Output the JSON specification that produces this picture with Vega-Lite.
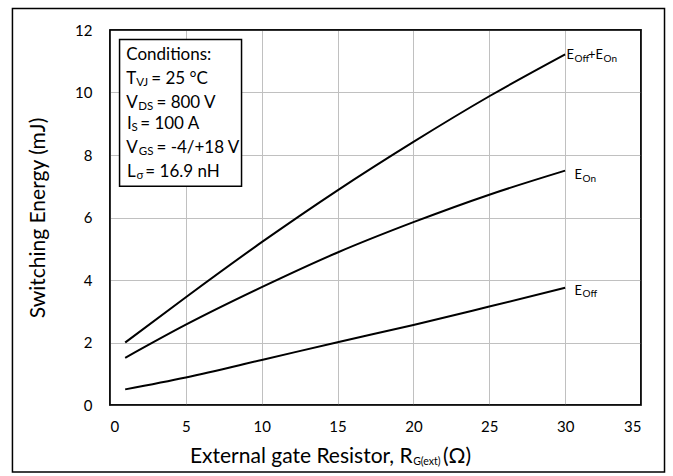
{
  "$schema": "https://vega.github.io/schema/vega-lite/v6.json",
  "width": 531,
  "height": 375,
  "autosize": {"type": "none"},
  "padding": {"left": 110, "top": 30, "right": 32, "bottom": 71},
  "background": "white",
  "config": {
    "font": "Lato",
    "view": {"stroke": "black", "strokeWidth": 1.5},
    "axis": {"labelFont": "Lato", "titleFont": "Lato", "labelColor": "black", "titleColor": "black", "gridColor": "#c0c0c0", "gridWidth": 1, "ticks": false, "tickSize": 0, "domain": false, "labelFontSize": 15}
  },
  "datasets": {
    "curves": [
      {"R": 1, "E": 0.50, "s": "Eoff"}, {"R": 5, "E": 0.88, "s": "Eoff"}, {"R": 10, "E": 1.44, "s": "Eoff"}, {"R": 15, "E": 2.01, "s": "Eoff"}, {"R": 20, "E": 2.56, "s": "Eoff"}, {"R": 25, "E": 3.15, "s": "Eoff"}, {"R": 30, "E": 3.75, "s": "Eoff"},
      {"R": 1, "E": 1.51, "s": "Eon"}, {"R": 5, "E": 2.57, "s": "Eon"}, {"R": 10, "E": 3.77, "s": "Eon"}, {"R": 15, "E": 4.88, "s": "Eon"}, {"R": 20, "E": 5.85, "s": "Eon"}, {"R": 25, "E": 6.73, "s": "Eon"}, {"R": 30, "E": 7.50, "s": "Eon"},
      {"R": 1, "E": 2.00, "s": "Etot"}, {"R": 5, "E": 3.45, "s": "Etot"}, {"R": 10, "E": 5.21, "s": "Etot"}, {"R": 15, "E": 6.87, "s": "Etot"}, {"R": 20, "E": 8.42, "s": "Etot"}, {"R": 25, "E": 9.88, "s": "Etot"}, {"R": 30, "E": 11.22, "s": "Etot"}
    ],
    "frames": [
      {"k": "outer", "x1": -6.43, "x2": 36.55, "y1": -2.14, "y2": 12.69},
      {"k": "plot", "x1": 0, "x2": 35, "y1": 0, "y2": 12},
      {"k": "box", "x1": 0.63, "x2": 8.67, "y1": 7.0, "y2": 11.7}
    ],
    "notes": [
      {"t": "Conditions:", "x": 1.07, "y": 11.19, "k": "box"},
      {"t": "T", "x": 1.07, "y": 10.42, "k": "box"}, {"t": "VJ", "x": 1.73, "y": 10.42, "k": "boxsub"}, {"t": "= 25 °C", "x": 2.72, "y": 10.42, "k": "box"},
      {"t": "V", "x": 1.07, "y": 9.68, "k": "box"}, {"t": "DS", "x": 1.86, "y": 9.68, "k": "boxsub"}, {"t": "= 800 V", "x": 3.06, "y": 9.68, "k": "box"},
      {"t": "I", "x": 1.12, "y": 8.98, "k": "box"}, {"t": "S", "x": 1.42, "y": 8.98, "k": "boxsub"}, {"t": "= 100 A", "x": 1.99, "y": 8.98, "k": "box"},
      {"t": "V", "x": 1.07, "y": 8.24, "k": "box"}, {"t": "GS", "x": 1.90, "y": 8.24, "k": "boxsub"}, {"t": "= -4/+18 V", "x": 3.06, "y": 8.24, "k": "box"},
      {"t": "L", "x": 1.12, "y": 7.45, "k": "box"}, {"t": "σ", "x": 1.75, "y": 7.45, "k": "boxsub"}, {"t": "= 16.9 nH", "x": 2.33, "y": 7.45, "k": "box"},
      {"t": "E", "x": 30.09, "y": 11.19, "k": "lbl"}, {"t": "Off", "x": 30.62, "y": 11.19, "k": "lblsub"}, {"t": "+E", "x": 31.51, "y": 11.19, "k": "lbl"}, {"t": "On", "x": 32.53, "y": 11.19, "k": "lblsub"},
      {"t": "E", "x": 30.62, "y": 7.35, "k": "lbl"}, {"t": "On", "x": 31.15, "y": 7.35, "k": "lblsub"},
      {"t": "E", "x": 30.62, "y": 3.65, "k": "lbl"}, {"t": "Off", "x": 31.15, "y": 3.65, "k": "lblsub"},
      {"t": "External gate Resistor, R", "x": 19.95, "y": -1.65, "k": "title"},
      {"t": "G(ext)", "x": 19.98, "y": -1.65, "k": "titlesub"},
      {"t": "(Ω)", "x": 21.95, "y": -1.65, "k": "titleL"}
    ]
  },
  "layer": [
    {
      "data": {"name": "frames"},
      "transform": [{"filter": "datum.k === 'box'"}],
      "mark": {"type": "rect", "color": "white", "opacity": 1},
      "encoding": {
        "x": {"field": "x1", "type": "quantitative", "scale": {"domain": [0, 35], "nice": false}},
        "x2": {"field": "x2"},
        "y": {"field": "y1", "type": "quantitative", "scale": {"domain": [0, 12], "nice": false}},
        "y2": {"field": "y2"}
      }
    },
    {
      "data": {"name": "curves"},
      "mark": {"type": "line", "color": "black", "strokeWidth": 2, "interpolate": "monotone"},
      "encoding": {
        "x": {"field": "R", "type": "quantitative", "scale": {"domain": [0, 35], "nice": false},
          "axis": {"values": [0, 5, 10, 15, 20, 25, 30, 35], "title": null, "labelPadding": 14, "grid": true}},
        "y": {"field": "E", "type": "quantitative", "scale": {"domain": [0, 12], "nice": false},
          "axis": {"values": [0, 2, 4, 6, 8, 10, 12], "title": "Switching Energy (mJ)", "titleFontSize": 21, "titleFontWeight": "normal", "titlePadding": 26, "labelPadding": 18, "grid": true}},
        "detail": {"field": "s"}
      }
    },
    {
      "data": {"name": "frames"},
      "mark": {"type": "rect", "filled": false, "stroke": "black", "strokeWidth": 1.5},
      "encoding": {
        "x": {"field": "x1", "type": "quantitative", "scale": {"domain": [0, 35], "nice": false}},
        "x2": {"field": "x2"},
        "y": {"field": "y1", "type": "quantitative", "scale": {"domain": [0, 12], "nice": false}},
        "y2": {"field": "y2"}
      }
    },
    {
      "data": {"name": "notes"},
      "transform": [{"filter": "datum.k === 'box'"}],
      "mark": {"type": "text", "align": "left", "baseline": "middle", "fontSize": 17, "color": "black"},
      "encoding": {
        "x": {"field": "x", "type": "quantitative", "scale": {"domain": [0, 35], "nice": false}},
        "y": {"field": "y", "type": "quantitative", "scale": {"domain": [0, 12], "nice": false}},
        "text": {"field": "t"}
      }
    },
    {
      "data": {"name": "notes"},
      "transform": [{"filter": "datum.k === 'boxsub'"}],
      "mark": {"type": "text", "align": "left", "baseline": "middle", "fontSize": 11.5, "dy": 4, "color": "black"},
      "encoding": {
        "x": {"field": "x", "type": "quantitative", "scale": {"domain": [0, 35], "nice": false}},
        "y": {"field": "y", "type": "quantitative", "scale": {"domain": [0, 12], "nice": false}},
        "text": {"field": "t"}
      }
    },
    {
      "data": {"name": "notes"},
      "transform": [{"filter": "datum.k === 'lbl'"}],
      "mark": {"type": "text", "align": "left", "baseline": "middle", "fontSize": 13, "color": "black"},
      "encoding": {
        "x": {"field": "x", "type": "quantitative", "scale": {"domain": [0, 35], "nice": false}},
        "y": {"field": "y", "type": "quantitative", "scale": {"domain": [0, 12], "nice": false}},
        "text": {"field": "t"}
      }
    },
    {
      "data": {"name": "notes"},
      "transform": [{"filter": "datum.k === 'lblsub'"}],
      "mark": {"type": "text", "align": "left", "baseline": "middle", "fontSize": 10, "dy": 3.5, "color": "black"},
      "encoding": {
        "x": {"field": "x", "type": "quantitative", "scale": {"domain": [0, 35], "nice": false}},
        "y": {"field": "y", "type": "quantitative", "scale": {"domain": [0, 12], "nice": false}},
        "text": {"field": "t"}
      }
    },
    {
      "data": {"name": "notes"},
      "transform": [{"filter": "datum.k === 'title'"}],
      "mark": {"type": "text", "align": "right", "baseline": "middle", "fontSize": 21, "color": "black"},
      "encoding": {
        "x": {"field": "x", "type": "quantitative", "scale": {"domain": [0, 35], "nice": false}},
        "y": {"field": "y", "type": "quantitative", "scale": {"domain": [0, 12], "nice": false}},
        "text": {"field": "t"}
      }
    },
    {
      "data": {"name": "notes"},
      "transform": [{"filter": "datum.k === 'titleL'"}],
      "mark": {"type": "text", "align": "left", "baseline": "middle", "fontSize": 21, "color": "black"},
      "encoding": {
        "x": {"field": "x", "type": "quantitative", "scale": {"domain": [0, 35], "nice": false}},
        "y": {"field": "y", "type": "quantitative", "scale": {"domain": [0, 12], "nice": false}},
        "text": {"field": "t"}
      }
    },
    {
      "data": {"name": "notes"},
      "transform": [{"filter": "datum.k === 'titlesub'"}],
      "mark": {"type": "text", "align": "left", "baseline": "middle", "fontSize": 10.5, "dy": 5, "color": "black"},
      "encoding": {
        "x": {"field": "x", "type": "quantitative", "scale": {"domain": [0, 35], "nice": false}},
        "y": {"field": "y", "type": "quantitative", "scale": {"domain": [0, 12], "nice": false}},
        "text": {"field": "t"}
      }
    }
  ]
}
